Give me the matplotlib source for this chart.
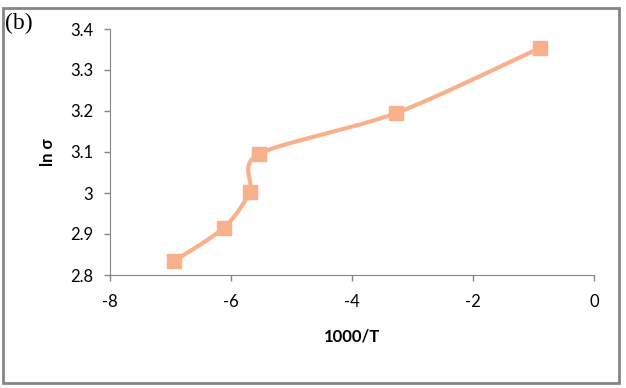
import numpy as np
import matplotlib.pyplot as plt
from matplotlib.patches import Rectangle

# data
inv_t = [-6.95, -6.12, -5.69, -5.54, -3.27, -0.89]
ln_sigma = [2.833, 2.915, 3.002, 3.095, 3.195, 3.354]

x_ticks = [-8, -6, -4, -2, 0]
y_ticks = [2.8, 2.9, 3.0, 3.1, 3.2, 3.3, 3.4]
y_labels = ["2.8", "2.9", "3", "3.1", "3.2", "3.3", "3.4"]

col = "#F8B18B"
grey = "#868686"


def smooth(px, py, k=0.14, n=30):
    # Bezier curve through the points (like Excel "smoothed line")
    P = np.column_stack([px, py]).astype(float)
    P = np.vstack([P[0], P, P[-1]])
    out = []
    for i in range(1, len(P) - 2):
        p0, p1, p2, p3 = P[i - 1], P[i], P[i + 1], P[i + 2]
        c1 = p1 + (p2 - p0) * k
        c2 = p2 - (p3 - p1) * k
        t = np.linspace(0, 1, n)[:, None]
        seg = (1 - t) ** 3 * p1 + 3 * (1 - t) ** 2 * t * c1 + 3 * (1 - t) * t ** 2 * c2 + t ** 3 * p2
        out.append(seg)
    out = np.vstack(out)
    return out[:, 0], out[:, 1]


plt.rcParams["font.family"] = ["Lato", "DejaVu Sans"]
plt.rcParams["axes.unicode_minus"] = False

fig = plt.figure(figsize=(6.26, 3.88), dpi=100)
ax = fig.add_axes([110 / 626, 1 - 275 / 388, (594 - 110) / 626, (275 - 29) / 388])

sx, sy = smooth(inv_t, ln_sigma)
ax.plot(sx, sy, color=col, lw=3, zorder=2)
ax.plot(inv_t, ln_sigma, ls="none", marker="s", ms=10, color=col, zorder=3)

ax.set_xlim(-8, 0)
ax.set_ylim(2.8, 3.4)
ax.set_xticks(x_ticks)
ax.set_yticks(y_ticks)
ax.set_yticklabels(y_labels)
ax.tick_params(labelsize=12, color=grey, length=4, width=1)
ax.tick_params(axis="x", pad=10)
ax.tick_params(axis="y", pad=8)
for s in ["top", "right"]:
    ax.spines[s].set_visible(False)
for s in ["left", "bottom"]:
    ax.spines[s].set_color(grey)

ax.set_xlabel("1000/T", fontsize=12, fontweight="bold", labelpad=13)
ax.set_ylabel("ln σ", fontsize=12, fontweight="bold", labelpad=10)

fig.text(5 / 626, 1 - 23 / 388, "(b)", family="Liberation Serif", fontsize=17, va="center")
fig.patches.append(Rectangle((3 / 626, 1 - 383 / 388), 616 / 626, 375 / 388,
                             transform=fig.transFigure, fill=False, ec=grey, lw=2))

fig.savefig("out.png", dpi=100)
